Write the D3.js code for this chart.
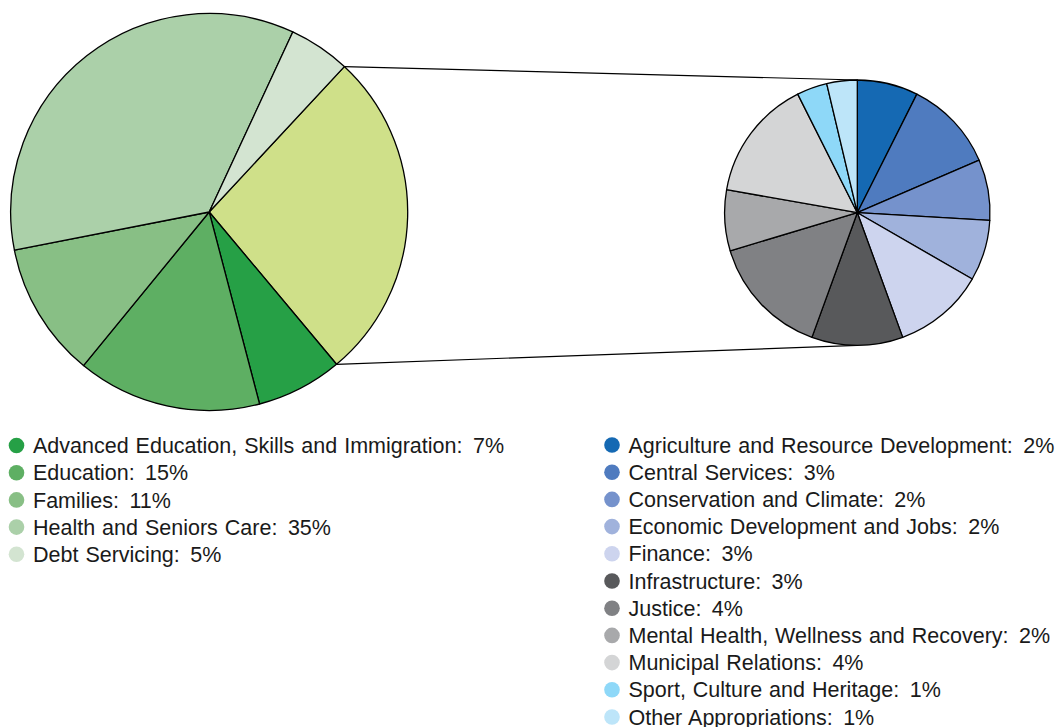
<!DOCTYPE html>
<html>
<head>
<meta charset="utf-8">
<script src="https://cdn.jsdelivr.net/npm/d3@7"></script>
<style>
  html, body { margin: 0; padding: 0; background: #fff; }
  svg text { font-family: "Liberation Sans", Arial, sans-serif; fill: #1a1a1a; white-space: pre; }
</style>
</head>
<body>
<svg id="chart" width="1058" height="727"></svg>
<script>
// Spending shares, main pie
const mainCategories = [
  "Advanced Education, Skills and Immigration",
  "Education",
  "Families",
  "Health and Seniors Care",
  "Debt Servicing"
];
const mainValues = [7, 15, 11, 35, 5];
const mainColors = ["#26a046", "#5eaf63", "#88bf85", "#abd0a9", "#d3e4d1"];
const otherColor = "#cfe089";

// Departments grouped into the secondary pie
const detailCategories = [
  "Agriculture and Resource Development",
  "Central Services",
  "Conservation and Climate",
  "Economic Development and Jobs",
  "Finance",
  "Infrastructure",
  "Justice",
  "Mental Health, Wellness and Recovery",
  "Municipal Relations",
  "Sport, Culture and Heritage",
  "Other Appropriations"
];
const detailValues = [2, 3, 2, 2, 3, 3, 4, 2, 4, 1, 1];
const detailColors = ["#1569b3", "#4f7bbf", "#7592cc", "#a0b2dc", "#cdd4ee",
                      "#58595b", "#808184", "#a8a9ab", "#d4d5d6", "#8ed8f8", "#bde5f9"];

const svg = d3.select("#chart");
const deg = Math.PI / 180;

// Main pie: the grouped slice first, then the named departments clockwise
const otherTotal = d3.sum(detailValues);
const mainData = [{ name: "Other", value: otherTotal, color: otherColor }]
  .concat(mainCategories.map((c, i) => ({ name: c, value: mainValues[i], color: mainColors[i] })));

const main = { cx: 209.2, cy: 212, r: 198.5 };
const mainStart = 42.9 * deg;
const mainPie = d3.pie().sort(null).value(d => d.value)
  .startAngle(mainStart).endAngle(mainStart + 2 * Math.PI);
const mainArcs = mainPie(mainData);
const mainArc = d3.arc().innerRadius(0).outerRadius(main.r);

const detail = { cx: 857.3, cy: 212.7, r: 132.7 };
const detailData = detailCategories.map((c, i) => ({ name: c, value: detailValues[i], color: detailColors[i] }));
const detailPie = d3.pie().sort(null).value(d => d.value);
const detailArcs = detailPie(detailData);
const detailArc = d3.arc().innerRadius(0).outerRadius(detail.r);

// Connector lines from the grouped slice to the top and bottom of the secondary pie
const o = mainArcs[0];
const pt = a => [main.cx + main.r * Math.sin(a), main.cy - main.r * Math.cos(a)];
const [x0, y0] = pt(o.startAngle);
const [x1, y1] = pt(o.endAngle);
svg.append("line").attr("x1", x0).attr("y1", y0)
  .attr("x2", detail.cx).attr("y2", detail.cy - detail.r)
  .attr("stroke", "#000").attr("stroke-width", 1.2);
svg.append("line").attr("x1", x1).attr("y1", y1)
  .attr("x2", detail.cx).attr("y2", detail.cy + detail.r)
  .attr("stroke", "#000").attr("stroke-width", 1.2);

svg.append("g").attr("transform", `translate(${main.cx},${main.cy})`)
  .selectAll("path").data(mainArcs).join("path")
  .attr("d", mainArc)
  .attr("fill", d => d.data.color)
  .attr("stroke", "#000").attr("stroke-width", 1.3).attr("stroke-linejoin", "round");

svg.append("g").attr("transform", `translate(${detail.cx},${detail.cy})`)
  .selectAll("path").data(detailArcs).join("path")
  .attr("d", detailArc)
  .attr("fill", d => d.data.color)
  .attr("stroke", "#000").attr("stroke-width", 1.3).attr("stroke-linejoin", "round");

// Legends
function legend(x, y, names, values, colors) {
  const g = svg.append("g").attr("transform", `translate(${x},${y})`);
  const rows = g.selectAll("g").data(names).join("g")
    .attr("transform", (d, i) => `translate(0,${i * 27.2})`);
  rows.append("circle").attr("cx", 0).attr("cy", 0).attr("r", 7.8)
    .attr("fill", (d, i) => colors[i]);
  const t = rows.append("text").attr("x", 16.5).attr("y", 7.6)
    .attr("font-size", 21.5).attr("word-spacing", 1);
  t.append("tspan").text(d => `${d}:`);
  t.append("tspan").attr("dx", 3.5).text((d, i) => ` ${values[i]}%`);
}
legend(16.5, 445.5, mainCategories, mainValues, mainColors);
legend(612, 445, detailCategories, detailValues, detailColors);
</script>
</body>
</html>
